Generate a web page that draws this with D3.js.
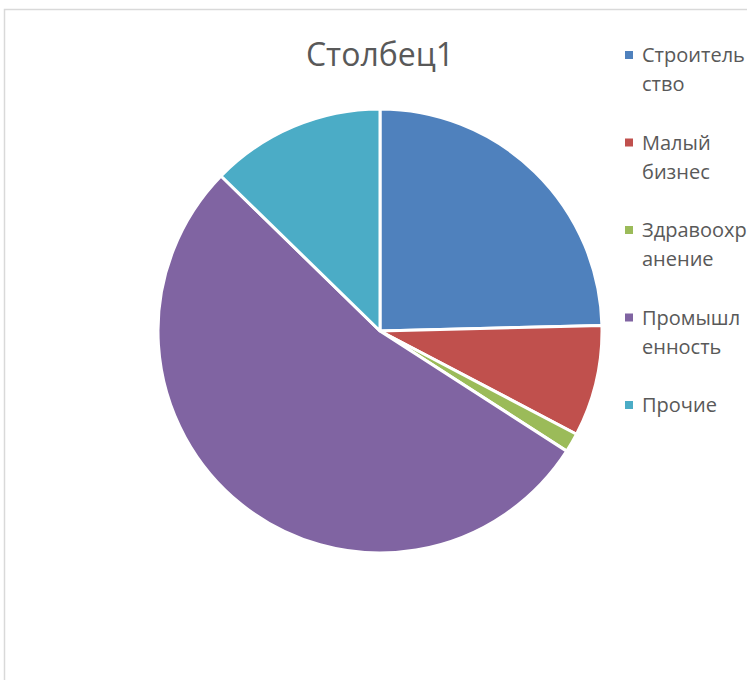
<!DOCTYPE html>
<html>
<head>
<meta charset="utf-8">
<script src="https://cdn.jsdelivr.net/npm/d3@7"></script>
<style>
  body { margin: 0; background: #fff; }
  svg { display: block; }
</style>
</head>
<body>
<div id="chart"></div>
<script>
// DATA
const categories = ["Строительство", "Малый бизнес", "Здравоохранение", "Промышленность", "Прочие"];
const values = [24.6, 8.1, 1.4, 53.2, 12.7];
// legend labels as wrapped in the original
const legendLines = [["Строитель", "ство"], ["Малый", "бизнес"], ["Здравоохр", "анение"], ["Промышл", "енность"], ["Прочие"]];
const colors = ["#4F81BD", "#C0504D", "#9BBB59", "#8064A2", "#4BACC6"];
const title = "Столбец1";

const outerWidth = 747;
const outerHeight = 680;
const cx = 380, cy = 331, radius = 222;

const svg = d3.select("#chart").append("svg")
	.attr("width", outerWidth)
	.attr("height", outerHeight);

// chart area border
svg.append("rect")
	.attr("x", 4.5)
	.attr("y", 9.5)
	.attr("width", 800)
	.attr("height", 800)
	.attr("fill", "#fff")
	.attr("stroke", "#d9d9d9")
	.attr("stroke-width", 1.5);

svg.append("text")
	.attr("x", cx)
	.attr("y", 66)
	.attr("text-anchor", "middle")
	.style("font-family", "'Open Sans', 'Noto Sans', sans-serif")
	.style("font-size", "32px")
	.style("fill", "#595959")
	.text(title);

const color = d3.scaleOrdinal().domain(categories).range(colors);

const pie = d3.pie().sort(null).value(d => d.value);
const arc = d3.arc().innerRadius(0).outerRadius(radius);

const data = categories.map((c, i) => ({ name: c, value: values[i] }));

const pieG = svg.append("g")
	.attr("transform", `translate(${cx}, ${cy})`);

pieG.selectAll("path")
	.data(pie(data))
	.enter()
	.append("path")
	.attr("d", arc)
	.attr("fill", d => color(d.data.name))
	.attr("stroke", "#fff")
	.attr("stroke-width", 3)
	.attr("stroke-linejoin", "round");

// legend
const legend = svg.selectAll(".legend")
	.data(data)
	.enter()
	.append("g")
	.attr("class", "legend")
	.attr("transform", (d, i) => `translate(625, ${55 + i * 87.5})`);

legend.append("rect")
	.attr("x", 0)
	.attr("y", -4)
	.attr("width", 8)
	.attr("height", 8)
	.attr("fill", d => color(d.name));

legend.append("text")
	.attr("x", 17)
	.attr("y", 0)
	.style("font-family", "'Open Sans', 'Noto Sans', sans-serif")
	.style("font-size", "20px")
	.style("fill", "#595959")
	.selectAll("tspan")
	.data((d, i) => legendLines[i])
	.enter()
	.append("tspan")
	.attr("x", 17)
	.attr("dy", (d, j) => j === 0 ? "0.35em" : "29px")
	.text(d => d);
</script>
</body>
</html>
